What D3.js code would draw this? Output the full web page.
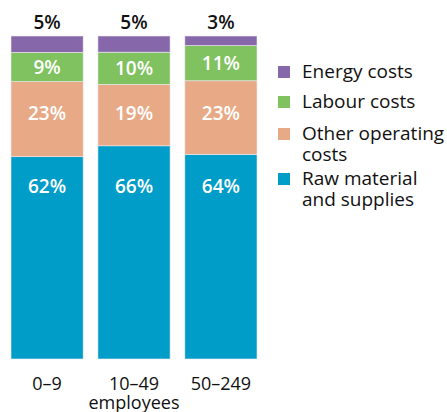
<!DOCTYPE html>
<html>
<head>
<meta charset="utf-8">
<script src="https://cdn.jsdelivr.net/npm/d3@7"></script>
<style>
  html, body { margin: 0; padding: 0; background: #fff; }
  svg { display: block; font-family: "Open Sans", "Noto Sans", sans-serif; }
</style>
</head>
<body>
<svg id="chart" width="447" height="412"></svg>
<script>
// Cost structure by enterprise size (share of total costs, %)
const categories = ["0–9", "10–49", "50–249"];
const seriesNames = ["Raw material and supplies", "Other operating costs", "Labour costs", "Energy costs"];
const rawMaterial = [62, 66, 64];
const otherOperating = [23, 19, 23];
const labour = [9, 10, 11];
const energy = [5, 5, 3];
const seriesColors = ["#009dc8", "#e8aa86", "#80c160", "#8668aa"];
const legendLines = [
  ["Energy costs"],
  ["Labour costs"],
  ["Other operating", "costs"],
  ["Raw material", "and supplies"]
];
const legendColors = ["#8668aa", "#80c160", "#e8aa86", "#009dc8"];
const axisTitle = "employees";

const rows = categories.map((c, i) => ({
  cat: c,
  "Raw material and supplies": rawMaterial[i],
  "Other operating costs": otherOperating[i],
  "Labour costs": labour[i],
  "Energy costs": energy[i]
}));

const W = 447, H = 412;
const svg = d3.select("#chart");

const x = d3.scaleBand().domain(categories).range([11, 257]).paddingInner(0.17).paddingOuter(0);
const y = d3.scaleLinear().domain([0, 1]).range([359, 36]);

// each column is shown as shares of its own total
const stacked = d3.stack().keys(seriesNames).offset(d3.stackOffsetExpand)(rows);

// label baselines: the two large blocks share a common row per series,
// labour sits in the middle of its block, energy goes above the column
const labelRow = {
  "Raw material and supplies": () => 193,
  "Other operating costs": () => 120,
  "Labour costs": d => (y(d[0]) + y(d[1])) / 2 + 7,
  "Energy costs": () => 29
};

const g = svg.append("g");

stacked.forEach((layer, li) => {
  const key = layer.key;
  const isTop = key === "Energy costs";
  const sg = g.append("g");
  sg.selectAll("rect").data(layer).join("rect")
    .attr("x", d => x(d.data.cat))
    .attr("width", x.bandwidth())
    .attr("y", d => y(d[1]))
    .attr("height", d => y(d[0]) - y(d[1]))
    .attr("fill", seriesColors[li])
    .attr("stroke", "#efe9f3")
    .attr("stroke-width", 0.6);

  sg.selectAll("text").data(layer).join("text")
    .attr("x", d => x(d.data.cat) + x.bandwidth() / 2)
    .attr("y", labelRow[key])
    .attr("text-anchor", "middle")
    .attr("font-size", 19)
    .attr("font-weight", 600)
    .attr("fill", isTop ? "#111" : "#fff")
    .text(d => d.data[key] + "%");
});

// category axis labels
const xAxis = d3.axisBottom(x).tickSize(0).tickPadding(0);
const ax = svg.append("g").attr("transform", "translate(0,390)").call(xAxis);
ax.select(".domain").remove();
ax.selectAll("text")
  .attr("font-size", 18)
  .attr("font-family", "'Open Sans', 'Noto Sans', sans-serif")
  .attr("fill", "#111")
  .attr("dy", 0);

svg.append("text")
  .attr("x", x("10–49") + x.bandwidth() / 2)
  .attr("y", 409)
  .attr("text-anchor", "middle")
  .attr("font-size", 18)
  .attr("fill", "#111")
  .text(axisTitle);

// legend
const legendBase = [78, 108, 140, 185];
const leg = svg.append("g");
legendLines.forEach((lines, i) => {
  leg.append("rect")
    .attr("x", 278).attr("y", legendBase[i] - 12)
    .attr("width", 12).attr("height", 12)
    .attr("fill", legendColors[i]);
  lines.forEach((t, j) => {
    leg.append("text")
      .attr("x", 302)
      .attr("y", legendBase[i] + j * 21)
      .attr("font-size", 19)
      .attr("fill", "#111")
      .text(t);
  });
});
</script>
</body>
</html>
